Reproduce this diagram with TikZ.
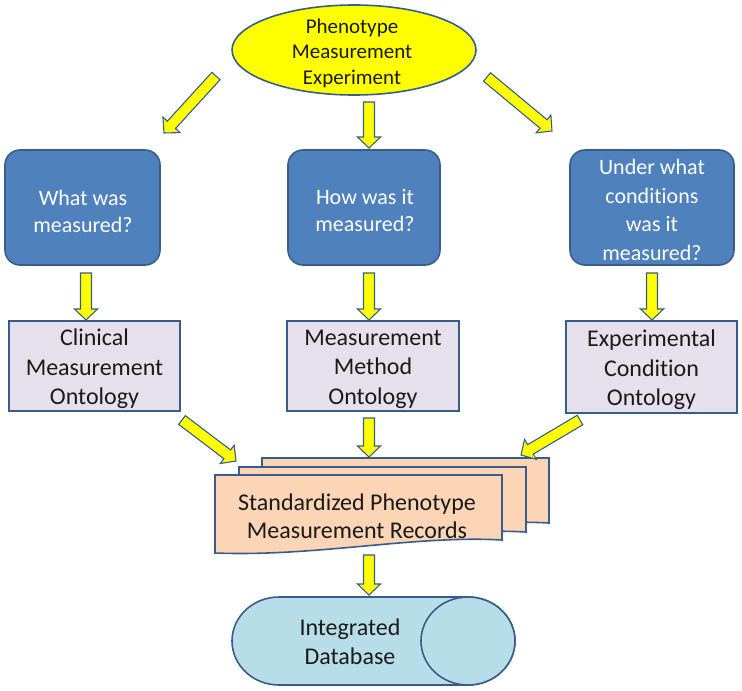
\documentclass[tikz,border=0pt]{standalone}
\usepackage{fontspec}
\setmainfont{Carlito}[Ligatures=NoCommon]
\usetikzlibrary{shapes.geometric,calc}
\definecolor{bord}{HTML}{385D8A}
\definecolor{qblue}{HTML}{4F81BD}
\definecolor{olav}{HTML}{E6E0EC}
\definecolor{peach}{HTML}{FBD5B5}
\definecolor{dbblue}{HTML}{B7DEE8}
\definecolor{yel}{HTML}{FFFF00}
\definecolor{txt}{HTML}{1A1A1A}
\tikzset{
  qbox/.style={draw=bord, line width=1.6pt, fill=qblue, rounded corners=15pt},
  qtext/.style={text=white, align=center, font=\fontsize{22}{27}\selectfont, inner sep=0pt},
  obox/.style={draw=bord, line width=1.6pt, fill=olav},
  otext/.style={text=txt, align=center, font=\fontsize{24}{29.5}\selectfont, inner sep=0pt},
  doc/.style={draw=bord, line width=1.6pt, fill=peach},
  yarr/.style={draw=bord, line width=1.1pt, fill=yel, line join=miter},
}
\newcommand\blockarr[2]{%
  \path let \p1=($(#2)-(#1)$), \n1={atan2(\y1,\x1)}, \n2={veclen(\x1,\y1)} in
    \pgfextra{\xdef\arrang{\n1}\xdef\arrlen{\n2}};
  \draw[yarr, shift={(#1)}, rotate=\arrang]
    (0pt,-5.5pt) -- (\arrlen-11pt,-5.5pt) -- (\arrlen-11pt,-11.5pt) -- (\arrlen,0pt)
    -- (\arrlen-11pt,11.5pt) -- (\arrlen-11pt,5.5pt) -- (0pt,5.5pt) -- cycle;}
\newcommand\docpath[2]{%
  \draw[doc, shift={(#1,#2)}] (0,0) -- (287,0) -- (287,65)
    .. controls (200,60) and (100,82) .. (0,78) -- cycle;}
\begin{document}
\begin{tikzpicture}[x=1pt,y=-1pt]
\useasboundingbox (0,0) rectangle (742,691);
% top ellipse
\node[ellipse, draw=bord, line width=1.6pt, fill=yel, minimum width=244pt, minimum height=90pt,
  inner sep=0pt] (exp) at (354,50) {};
\node[align=center, text=txt, font=\fontsize{21}{25.5}\selectfont, inner sep=0pt] (expt) at (352,53)
  {Phenotype\\Measurement\\Experiment};
% questions
\node[qbox, minimum width=155pt, minimum height=115pt] (q1) at (82.5,207.5) {};
\node[qtext] (q1t) at (83,211) {What was\\measured?};
\node[qbox, minimum width=152pt, minimum height=115pt] (q2) at (364,207.5) {};
\node[qtext] (q2t) at (365,211) {How was it\\measured?};
\node[qbox, minimum width=164pt, minimum height=115pt] (q3) at (652,207.5) {};
\node[qtext, font=\fontsize{22}{28.5}\selectfont] (q3t) at (652,210) {Under what\\conditions\\was it\\measured?};
% ontologies
\node[obox, minimum width=171pt, minimum height=90pt] (o1) at (94.5,366) {};
\node[otext] (o1t) at (94.5,369) {Clinical\\Measurement\\Ontology};
\node[obox, minimum width=172pt, minimum height=90pt] (o2) at (373,366) {};
\node[otext] (o2t) at (373,369) {Measurement\\Method\\Ontology};
\node[obox, minimum width=171pt, minimum height=92pt] (o3) at (651.5,367) {};
\node[otext] (o3t) at (651.5,370) {Experimental\\Condition\\Ontology};
% records (stacked documents)
\docpath{262}{458}
\docpath{239}{467}
\docpath{215}{475}
\node[align=center, text=txt, font=\fontsize{24}{27.5}\selectfont, inner sep=0pt] (rec) at (357,516)
  {Standardized Phenotype\\Measurement Records};
% database
\draw[draw=bord, line width=1.6pt, fill=dbblue] (279,597) -- (468,597)
  arc[start angle=90, end angle=-90, x radius=47pt, y radius=44pt] -- (279,685)
  arc[start angle=-90, end angle=-270, x radius=47pt, y radius=44pt] -- cycle;
\draw[draw=bord, line width=1.6pt, fill=dbblue] (468,641) ellipse [x radius=47pt, y radius=44pt];
\node[align=center, text=txt, font=\fontsize{24}{29}\selectfont] (db) at (350,642) {Integrated\\Database};
% arrow end points
\coordinate (a1s) at (216,76);  \coordinate (a1e) at (164,133);
\coordinate (a2s) at (369,102); \coordinate (a2e) at (369,148);
\coordinate (a3s) at (487,77);  \coordinate (a3e) at (552,131);
\coordinate (a4s) at (86,273);  \coordinate (a4e) at (86,320);
\coordinate (a5s) at (369,273); \coordinate (a5e) at (369,320);
\coordinate (a6s) at (652,273); \coordinate (a6e) at (652,320);
\coordinate (a7s) at (182,420); \coordinate (a7e) at (236,461);
\coordinate (a8s) at (369,418); \coordinate (a8e) at (369,457);
\coordinate (a9s) at (580,420); \coordinate (a9e) at (521,455);
\coordinate (a10s) at (369,555); \coordinate (a10e) at (369,595);
\blockarr{a1s}{a1e}
\blockarr{a2s}{a2e}
\blockarr{a3s}{a3e}
\blockarr{a4s}{a4e}
\blockarr{a5s}{a5e}
\blockarr{a6s}{a6e}
\blockarr{a7s}{a7e}
\blockarr{a8s}{a8e}
\blockarr{a9s}{a9e}
\blockarr{a10s}{a10e}
\end{tikzpicture}
\end{document}
